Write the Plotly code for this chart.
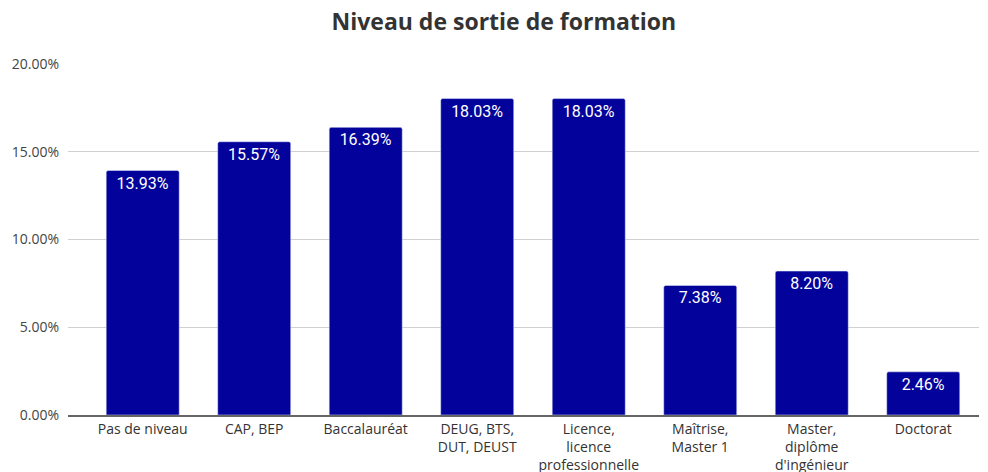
import plotly.graph_objects as go

# Education exit levels and their share of respondents (%)
categories = [
    "Pas de niveau",
    "CAP, BEP",
    "Baccalauréat",
    "DEUG, BTS,<br>DUT, DEUST",
    "Licence,<br>licence<br>professionnelle",
    "Maîtrise,<br>Master 1",
    "Master,<br>diplôme<br>d'ingénieur",
    "Doctorat",
]
shares = [13.93, 15.57, 16.39, 18.03, 18.03, 7.38, 8.20, 2.46]
y_ticks = [0, 5, 10, 15, 20]
y_tick_labels = ["0.00%", "5.00%", "10.00%", "15.00%", "20.00%"]

fig = go.Figure(
    go.Bar(
        x=list(range(len(categories))),
        y=shares,
        width=0.655,
        marker=dict(color="#03039b", cornerradius=2),
        text=[f"{v:.2f}%" for v in shares],
        textposition="inside",
        insidetextanchor="end",
        textfont=dict(family="Roboto", size=16, color="#ffffff"),
        cliponaxis=False,
    )
)

fig.update_layout(
    width=988,
    height=472,
    margin=dict(l=68, r=9, t=64, b=57),
    paper_bgcolor="#ffffff",
    plot_bgcolor="#ffffff",
    showlegend=False,
    title=dict(
        text="<b>Niveau de sortie de formation</b>",
        x=0.51,
        xanchor="center",
        y=0.953,
        yanchor="middle",
        font=dict(family="Open Sans", size=23, color="#333333"),
    ),
    xaxis=dict(
        range=[-0.67, 7.5],
        tickmode="array",
        tickvals=list(range(len(categories))),
        ticktext=categories,
        tickfont=dict(family="Open Sans", size=14, color="#333333"),
        showgrid=False,
        showline=True,
        linecolor="#666666",
        linewidth=2,
        ticks="",
        ticklen=0,
        automargin=False,
    ),
    yaxis=dict(
        range=[0, 20],
        tickmode="array",
        tickvals=y_ticks,
        ticktext=y_tick_labels,
        tickfont=dict(family="Open Sans", size=14, color="#444444"),
        showgrid=True,
        gridcolor="#d0d0d0",
        gridwidth=1,
        zeroline=False,
        ticks="",
        ticklabelstandoff=8,
        automargin=False,
    ),
    bargap=0.345,
)

fig.write_html("out.html")
